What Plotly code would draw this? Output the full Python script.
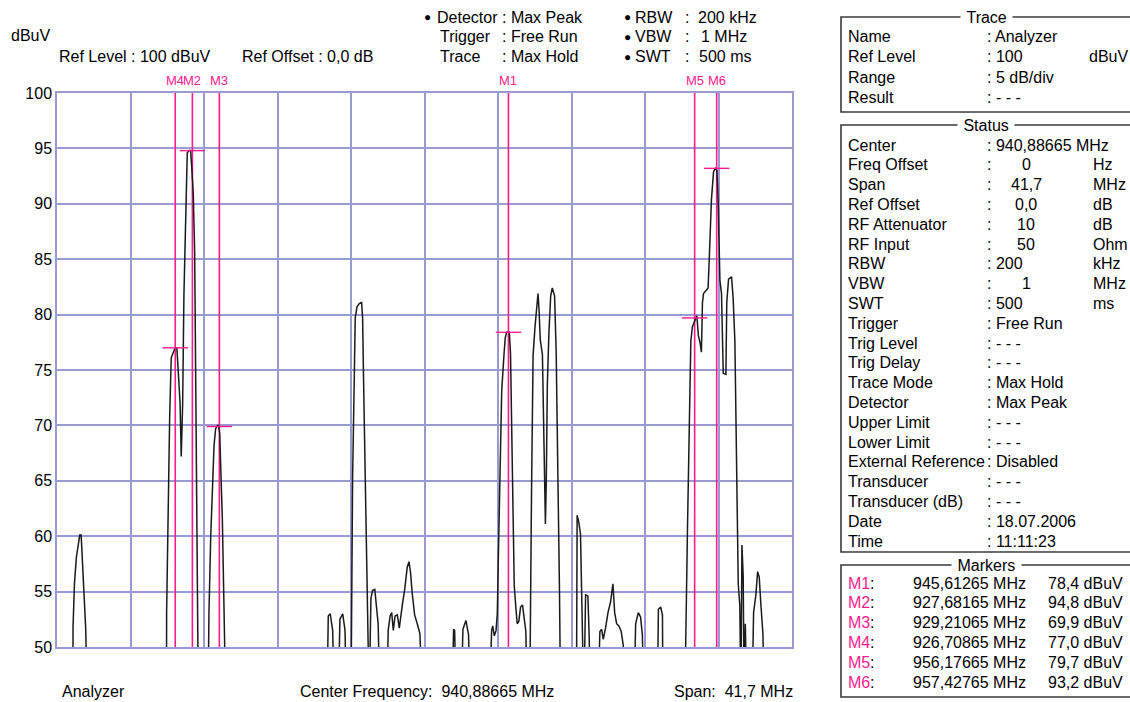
import plotly.graph_objects as go

# ---------------- data ----------------
trace_freq_mhz = [
    920.00, 920.90, 920.91, 920.99, 921.10, 921.23, 921.29, 921.37, 921.44, 921.52, 921.63, 921.71,
    926.21, 926.22, 926.29, 926.39, 926.48, 926.58, 926.70, 926.80, 926.88, 926.98, 927.05, 927.13,
    927.20, 927.30, 927.39, 927.50, 927.58, 927.64, 927.73, 927.81, 927.90, 927.96, 928.02,
    928.57, 928.62, 928.72, 928.81, 928.91, 929.00, 929.10, 929.16, 929.23, 929.29, 929.38, 929.48, 929.57,
    935.32, 935.39, 935.50, 935.64, 935.73, 935.96, 936.05, 936.21, 936.34, 936.42,
    936.68, 936.72, 936.77, 936.87, 936.92, 937.02, 937.15, 937.28, 937.34, 937.39, 937.49, 937.58,
    937.66, 937.71, 937.81, 937.90, 938.03, 938.14, 938.22, 938.33,
    938.71, 938.79, 938.90, 938.99, 939.08, 939.18, 939.31, 939.42, 939.50, 939.61, 939.72, 939.87,
    939.97, 940.06, 940.15, 940.29, 940.44, 940.59, 940.74,
    942.41, 942.50, 942.56, 942.65, 942.93, 943.03, 943.20, 943.35, 943.44,
    944.53, 944.66, 944.72, 944.81, 944.91, 944.98, 945.04, 945.13, 945.23, 945.36, 945.43, 945.51,
    945.66, 945.73, 945.83, 945.94, 946.03, 946.11, 946.20, 946.30, 946.41, 946.48, 946.60, 946.67,
    946.82, 946.92, 947.01, 947.12, 947.22, 947.29, 947.35, 947.42, 947.54, 947.63, 947.71, 947.76,
    947.82, 947.91, 948.01, 948.10, 948.23, 948.32, 948.42, 948.51, 948.57,
    949.47, 949.51, 949.61, 949.70, 949.76, 949.83, 949.89, 949.99, 950.12, 950.19, 950.27,
    950.69, 950.80, 950.90, 950.99, 951.12, 951.26, 951.41, 951.54, 951.64, 951.75, 951.88, 952.01,
    952.13, 952.20,
    952.73, 952.83, 952.98, 953.11, 953.21, 953.30,
    954.06, 954.12, 954.25, 954.35, 954.38,
    955.62, 955.77, 955.86, 955.96, 956.05, 956.19, 956.30, 956.39, 956.49, 956.56, 956.62, 956.68,
    956.77, 956.94, 957.02, 957.13, 957.25, 957.34, 957.44, 957.51, 957.61, 957.70, 957.80, 957.95,
    958.00, 958.10, 958.27, 958.36, 958.46, 958.55, 958.65, 958.74, 958.80, 958.86, 958.93, 958.99,
    959.05, 959.14,
    959.43, 959.52, 959.65, 959.75, 959.84, 959.94, 960.05, 960.13, 961.70,
]
trace_level_dbuv = [
    45, 45, 51.8, 55.7, 58.1, 59.7, 60.1, 60.1, 58.1, 54.9, 51.6, 45,
    45, 53.2, 61.6, 70.6, 76.1, 76.5, 77.0, 77.0, 75.1, 72.1, 67.2, 72.0,
    81.7, 90.4, 94.6, 94.8, 94.8, 93.4, 91.0, 85.6, 70.0, 55.0, 45,
    45, 53.0, 59.9, 64.1, 68.2, 69.7, 70.0, 70.0, 69.3, 66.2, 61.6, 53.1, 45,
    45, 52.8, 53.0, 51.5, 45, 45, 52.5, 53.0, 51.5, 45,
    45, 55.1, 65.2, 74.7, 79.7, 80.7, 81.0, 81.1, 79.7, 74.4, 66.2, 58.6,
    51.2, 45, 54.4, 55.1, 55.2, 53.7, 52.1, 45,
    45, 51.5, 52.8, 53.1, 51.5, 52.8, 52.9, 51.7, 52.8, 54.0, 55.1, 57.2,
    57.7, 56.7, 54.9, 52.9, 52.1, 51.2, 45,
    45, 51.6, 51.5, 45, 45, 51.6, 52.4, 51.1, 45,
    45, 51.5, 51.9, 51.0, 51.5, 53.0, 58.1, 67.1, 73.1, 76.4, 77.9, 78.4,
    78.4, 76.5, 65.1, 55.6, 53.6, 52.1, 52.3, 53.6, 53.8, 52.7, 51.4, 45,
    45, 63.7, 76.3, 78.9, 81.1, 81.9, 80.4, 77.7, 76.4, 68.7, 61.1, 65.1,
    73.7, 78.4, 81.7, 82.4, 81.7, 76.7, 66.4, 54.9, 45,
    45, 61.9, 61.2, 60.2, 56.2, 51.1, 45, 54.7, 54.6, 51.1, 45,
    45, 51.4, 51.6, 50.7, 51.7, 53.1, 54.1, 55.7, 53.1, 52.1, 51.9, 51.4,
    50.1, 45,
    45, 52.1, 53.1, 52.7, 51.1, 45,
    45, 53.4, 53.6, 52.9, 45,
    45, 60.7, 70.7, 77.6, 78.9, 79.4, 79.9, 78.1, 77.4, 76.6, 81.1, 81.9,
    82.1, 82.4, 85.6, 90.4, 92.9, 93.2, 93.0, 90.3, 83.1, 81.9, 74.7, 74.6,
    81.1, 83.2, 83.4, 81.5, 77.6, 67.2, 55.7, 53.7, 45, 59.2, 56.4, 45,
    52.1, 45,
    45, 53.1, 54.7, 56.8, 56.3, 53.7, 51.2, 45, 45,
]

marker_names = ["M1", "M2", "M3", "M4", "M5", "M6"]
marker_freq_mhz = [945.61265, 927.68165, 929.21065, 926.70865, 956.17665, 957.42765]
marker_level_dbuv = [78.4, 94.8, 69.9, 77.0, 79.7, 93.2]

ref_indicator_freq = [930.55]

y_tick_values = [50, 55, 60, 65, 70, 75, 80, 85, 90, 95, 100]

trace_rows = [("Name", ": Analyzer", ""), ("Ref Level", ": 100", "dBuV"),
              ("Range", ": 5 dB/div", ""), ("Result", ": - - -", "")]
status_labels = ["Center", "Freq Offset", "Span", "Ref Offset", "RF Attenuator", "RF Input",
                 "RBW", "VBW", "SWT", "Trigger", "Trig Level", "Trig Delay", "Trace Mode",
                 "Detector", "Upper Limit", "Lower Limit", "External Reference", "Transducer",
                 "Transducer (dB)", "Date", "Time"]
status_values = [": 940,88665 MHz", "0", "41,7", "0,0", "10", "50", ": 200", "1", ": 500",
                 ": Free Run", ": - - -", ": - - -", ": Max Hold", ": Max Peak", ": - - -",
                 ": - - -", ": Disabled", ": - - -", ": - - -", ": 18.07.2006", ": 11:11:23"]
status_units = ["", "Hz", "MHz", "dB", "dB", "Ohm", "kHz", "MHz", "ms", "", "", "", "", "", "",
                "", "", "", "", "", ""]

# ---------------- layout helpers ----------------
W, H = 1130, 702
L, R, T, B = 57, 792, 93, 647
X0, X1 = 920.0, 961.7


def px(x):
    return (x - L) / (R - L)


def py(y):
    return (B - y) / (B - T)


FONT = "Liberation Sans, Arial, sans-serif"
FS = 16
PINK = "#ff1a8c"
GRID = "#9a9ad2"
BOX = "#3a3a3a"

fig = go.Figure()

shapes = []
for f in marker_freq_mhz:
    shapes.append(dict(type="line", xref="x", yref="y", x0=f, x1=f, y0=50, y1=100,
                       line=dict(color=PINK, width=1.6), layer="between"))
for f, lv in zip(marker_freq_mhz, marker_level_dbuv):
    shapes.append(dict(type="line", xref="x", yref="y", x0=f - 0.72, x1=f + 0.72, y0=lv, y1=lv,
                       line=dict(color=PINK, width=1.4), layer="above"))

fig.add_trace(go.Scatter(x=trace_freq_mhz, y=trace_level_dbuv, mode="lines",
                         line=dict(color="#1a1a1a", width=1.5), hoverinfo="skip"))

fig.add_trace(go.Scatter(x=marker_freq_mhz, y=[100.45] * len(marker_freq_mhz), mode="markers",
                         marker=dict(symbol="triangle-down", size=7, color=PINK),
                         cliponaxis=False, hoverinfo="skip"))

fig.add_trace(go.Scatter(x=ref_indicator_freq, y=[49.35], mode="markers",
                         marker=dict(symbol="triangle-up", size=11, color="black"),
                         cliponaxis=False, hoverinfo="skip"))

ann = []


def text(x, y, s, anchor="left", size=FS, color="black", bg=None):
    d = dict(xref="paper", yref="paper", x=px(x), y=py(y), text=s, showarrow=False,
             xanchor=anchor, yanchor="middle", font=dict(family=FONT, size=size, color=color))
    if bg:
        d["bgcolor"] = bg
        d["borderpad"] = 1
    ann.append(d)


for n, f in zip(marker_names, marker_freq_mhz):
    ann.append(dict(xref="x", yref="paper", x=f, y=py(81), text=n, showarrow=False,
                    xanchor="center", yanchor="middle",
                    font=dict(family=FONT, size=13, color=PINK)))

# header
text(9, 35, "dBuV")
text(57, 57, "Ref Level : 100 dBuV")
text(240, 57, "Ref Offset : 0,0 dB")
text(422, 17, "●", size=12)
text(435, 17, "Detector")
text(500, 17, ": Max Peak")
text(438, 37, "Trigger")
text(500, 37, ": Free Run")
text(438, 57, "Trace")
text(500, 57, ": Max Hold")
for yy, lab in [(17, "RBW"), (37, "VBW"), (57, "SWT")]:
    text(622, yy, "●", size=12)
    text(633, yy, lab)
    text(683, yy, ":")
text(696, 17, "200 kHz")
text(749, 37, "1 MHz", anchor="right")
text(697, 57, "500 ms")

# footer
text(60, 691, "Analyzer")
text(298, 691, "Center Frequency:  940,88665 MHz")
text(672, 691, "Span:  41,7 MHz")

# right panel
BX0, BX1 = 841, 1140
for top, bot, title in [(17, 112, "Trace"), (125, 552, "Status"), (565, 697, "Markers")]:
    shapes.append(dict(type="rect", xref="paper", yref="paper", x0=px(BX0), x1=px(BX1),
                       y0=py(bot), y1=py(top), line=dict(color=BOX, width=1.6),
                       fillcolor="rgba(0,0,0,0)", layer="above"))
    text(986, top, "\u00a0" + title + "\u00a0", anchor="center", bg="white")

LX, CX, UX = 846, 985, 1087
for i, (lab, val, unit) in enumerate(trace_rows):
    y = 37 + i * 20
    text(LX, y, lab)
    text(CX, y, val)
    if unit:
        text(UX, y, unit)

centered = {"Freq Offset", "Span", "Ref Offset", "RF Attenuator", "RF Input", "VBW"}
for i, (lab, val, unit) in enumerate(zip(status_labels, status_values, status_units)):
    y = 145 + i * 19.8
    text(LX, y, lab)
    if lab in centered:
        text(CX, y, ":")
        text(1026, y, val, anchor="center")
    else:
        text(CX, y, val)
    if unit:
        text(1091, y, unit)

for i, (n, f, lv) in enumerate(zip(marker_names, marker_freq_mhz, marker_level_dbuv)):
    y = 583 + i * 19.8
    text(LX, y, n, color=PINK)
    text(868, y, ":")
    text(1028, y, f"{f:.5f}".replace(".", ",") + " MHz", anchor="right")
    text(1125, y, f"{lv:.1f}".replace(".", ",") + " dBuV", anchor="right")

fig.update_layout(
    width=W, height=H,
    margin=dict(l=L, r=W - R, t=T, b=H - B, pad=0),
    paper_bgcolor="white", plot_bgcolor="white",
    showlegend=False,
    shapes=shapes, annotations=ann,
    font=dict(family=FONT, size=FS, color="black"),
    xaxis=dict(range=[X0, X1], tick0=X0, dtick=(X1 - X0) / 10, showticklabels=False,
               ticks="", showgrid=True, gridcolor=GRID, gridwidth=1.5, zeroline=False,
               showline=True, mirror=True, linecolor=GRID, linewidth=1.5, fixedrange=True),
    yaxis=dict(range=[50, 100], tickvals=y_tick_values,
               ticktext=[str(v) for v in y_tick_values], ticks="",
               showgrid=True, gridcolor=GRID, gridwidth=1.5, zeroline=False,
               showline=True, mirror=True, linecolor=GRID, linewidth=1.5,
               tickfont=dict(family=FONT, size=FS, color="black"), fixedrange=True),
)

fig.write_html("out.html", config={"displayModeBar": False},
               post_script="document.body.style.margin='0';")
